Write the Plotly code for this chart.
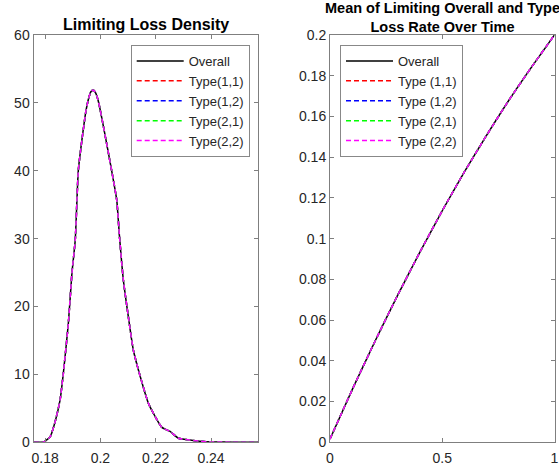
import plotly.graph_objects as go

# ---- data: limiting loss density ----
loss_x = [0.1758, 0.1795, 0.1818, 0.1836, 0.1854, 0.1866, 0.1884, 0.1897, 0.1909,
          0.1920, 0.1933, 0.1948, 0.1957, 0.1965, 0.1973, 0.1981, 0.1988, 0.1995,
          0.2011, 0.2029, 0.2047, 0.2059, 0.2069, 0.2083, 0.2101, 0.2119, 0.2144,
          0.2174, 0.2198, 0.2222, 0.2252, 0.2282, 0.2324, 0.2361, 0.2409, 0.2480, 0.2571]
density_overall = [0.0, 0.05, 0.8, 3.0, 6.2, 10.2, 17.5, 24.9, 29.8,
                   40.0, 44.5, 48.9, 50.6, 51.6, 51.9, 51.6, 50.9, 49.8,
                   46.5, 42.6, 38.6, 35.7, 30.3, 23.9, 18.5, 13.6, 9.7,
                   5.7, 3.8, 2.2, 1.6, 0.6, 0.35, 0.15, 0.05, 0.02, 0.0]
density_11 = list(density_overall)
density_12 = list(density_overall)
density_21 = list(density_overall)
density_22 = list(density_overall)

# ---- data: mean loss rate over time ----
time_x = [0.0, 0.1, 0.2, 0.3, 0.4, 0.5, 0.6, 0.7, 0.8, 0.9, 1.0]
mean_overall = [0.0016, 0.0261, 0.0495, 0.0719, 0.0933, 0.1137, 0.1330, 0.1512, 0.1685, 0.1846, 0.2000]
mean_11 = list(mean_overall)
mean_12 = list(mean_overall)
mean_21 = list(mean_overall)
mean_22 = list(mean_overall)

left_names = ["Overall", "Type(1,1)", "Type(1,2)", "Type(2,1)", "Type(2,2)"]
right_names = ["Overall", "Type (1,1)", "Type (1,2)", "Type (2,1)", "Type (2,2)"]
colors = ["#000000", "#FF0000", "#0000FF", "#00FF00", "#FF00FF"]
dashes = ["solid", "5px,3px", "5px,3px", "5px,3px", "5px,3px"]

left_ticks = [0.18, 0.2, 0.22, 0.24]
left_ticktext = ["0.18", "0.2", "0.22", "0.24"]
right_xticks = [0, 0.5, 1]
right_xticktext = ["0", "0.5", "1"]
right_yticks = [0, 0.02, 0.04, 0.06, 0.08, 0.1, 0.12, 0.14, 0.16, 0.18, 0.2]
right_yticktext = ["0", "0.02", "0.04", "0.06", "0.08", "0.1", "0.12", "0.14", "0.16", "0.18", "0.2"]

W, H = 559, 472
FONT = "Liberation Sans, Arial, sans-serif"
AX = "#7f7f7f"
TXT = "#262626"

fig = go.Figure()
left_series = [density_overall, density_11, density_12, density_21, density_22]
for name, ys, c, d in zip(left_names, left_series, colors, dashes):
    fig.add_trace(go.Scatter(x=loss_x, y=ys, mode="lines", name=name,
                             line=dict(color=c, width=1.5, dash=d, shape="spline", smoothing=0.5),
                             xaxis="x", yaxis="y", legend="legend"))
right_series = [mean_overall, mean_11, mean_12, mean_21, mean_22]
for name, ys, c, d in zip(right_names, right_series, colors, dashes):
    fig.add_trace(go.Scatter(x=time_x, y=ys, mode="lines", name=name,
                             line=dict(color=c, width=1.5, dash=d, shape="spline", smoothing=0.5),
                             xaxis="x2", yaxis="y2", legend="legend2"))

def px_x(p):
    return p / W

def px_y(p):
    return (H - p) / H

axis_common = dict(showline=True, linecolor=AX, linewidth=1, mirror="ticks",
                   ticks="inside", ticklen=4, tickcolor=AX, tickwidth=1,
                   showgrid=False, zeroline=False, automargin=False,
                   tickfont=dict(family=FONT, size=14, color=TXT))

yd = [px_y(442.3), px_y(35)]
fig.update_layout(
    width=W, height=H,
    margin=dict(l=0, r=0, t=0, b=0),
    paper_bgcolor="white", plot_bgcolor="white",
    font=dict(family=FONT, color=TXT),
    xaxis=dict(domain=[px_x(33.5), px_x(258.3)], range=[0.1758, 0.2571],
               tickvals=left_ticks, ticktext=left_ticktext, anchor="y",
               ticklabelstandoff=3, **axis_common),
    yaxis=dict(domain=yd, range=[0, 60], tickvals=[0, 10, 20, 30, 40, 50, 60], anchor="x",
               **axis_common),
    xaxis2=dict(domain=[px_x(330), px_x(554.5)], range=[0, 1],
                tickvals=right_xticks, ticktext=right_xticktext, anchor="y2",
                ticklabelstandoff=3, **axis_common),
    yaxis2=dict(domain=yd, range=[0, 0.2], tickvals=right_yticks, ticktext=right_yticktext,
                anchor="x2", **axis_common),
    legend=dict(x=px_x(130.7), y=px_y(45), xanchor="left", yanchor="top",
                bgcolor="white", bordercolor="#888888", borderwidth=1,
                font=dict(family=FONT, size=13, color=TXT), itemwidth=47,
                tracegroupgap=0),
    legend2=dict(x=px_x(340), y=px_y(45), xanchor="left", yanchor="top",
                 bgcolor="white", bordercolor="#888888", borderwidth=1,
                 font=dict(family=FONT, size=13, color=TXT), itemwidth=47,
                 tracegroupgap=0),
    annotations=[
        dict(text="<b>Limiting Loss Density</b>", x=px_x(146), y=px_y(25),
             xref="paper", yref="paper", xanchor="center", yanchor="middle",
             showarrow=False, font=dict(family=FONT, size=16, color="#000000")),
        dict(text="<b>Mean of Limiting Overall and Type</b><br><b>Loss Rate Over Time</b>",
             x=px_x(442), y=px_y(17), xref="paper", yref="paper",
             xanchor="center", yanchor="middle", showarrow=False,
             font=dict(family=FONT, size=14.5, color="#000000")),
    ],
)

fig.write_html("out.html", config={"displayModeBar": False},
               post_script="document.body.style.margin='0px';document.body.style.overflow='hidden';")
